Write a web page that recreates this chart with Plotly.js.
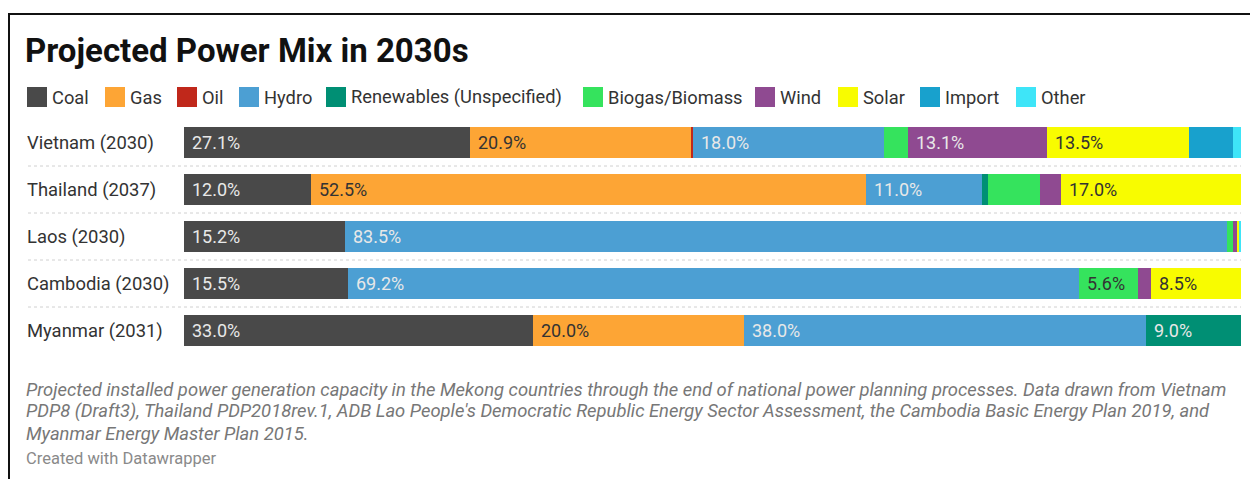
<!DOCTYPE html>
<html>
<head>
<meta charset="utf-8">
<script src="https://cdn.plot.ly/plotly-3.0.1.min.js"></script>
<style>
  html, body { margin: 0; padding: 0; background: #fff; }
  #chart { width: 1250px; height: 479px; }
  #frame { position: absolute; left: 8px; top: 13px; right: 0; bottom: 0;
           border-left: 2px solid #111; border-top: 2px solid #111; pointer-events: none; }
</style>
</head>
<body>
<div id="chart"></div>
<div id="frame"></div>
<script>
// ---- Data ----
const countries = ["Vietnam (2030)", "Thailand (2037)", "Laos (2030)", "Cambodia (2030)", "Myanmar (2031)"];
const seriesNames = ["Coal", "Gas", "Oil", "Hydro", "Renewables (Unspecified)", "Biogas/Biomass", "Wind", "Solar", "Import", "Other"];
const coal       = [27.1, 12.0, 15.2, 15.5, 33.0];
const gas        = [20.9, 52.5, 0, 0, 20.0];
const oil        = [0.2, 0, 0, 0, 0];
const hydro      = [18.0, 11.0, 83.5, 69.2, 38.0];
const renewables = [0, 0.6, 0, 0, 9.0];
const biogas     = [2.3, 4.9, 0.5, 5.6, 0];
const wind       = [13.1, 2.0, 0.4, 1.2, 0];
const solar      = [13.5, 17.0, 0.2, 8.5, 0];
const imports    = [4.1, 0, 0, 0, 0];
const other      = [0.8, 0, 0.2, 0, 0];
const seriesValues = [coal, gas, oil, hydro, renewables, biogas, wind, solar, imports, other];

// ---- Styles ----
const colors = ["#494949", "#fda535", "#c0281b", "#4c9fd3", "#008f74", "#35e35d", "#8f4a91", "#f8fc00", "#18a1cd", "#3ee5f8"];
const labelColors = ["#e8e8e8", "#333333", "#e8e8e8", "#e8e8e8", "#e8e8e8", "#333333", "#e8e8e8", "#333333", "#e8e8e8", "#333333"];
const legendSquareX = [27, 105, 177, 239, 326, 583, 755, 838, 920, 1016];
const FONT = "Roboto, 'Noto Sans', sans-serif";

const W = 1250, H = 479;
const M = { l: 184, r: 9, t: 119, b: 125 };
const PW = W - M.l - M.r, PH = H - M.t - M.b;
const px2x = px => (px - M.l) / PW;
const px2y = py => (H - M.b - py) / PH;

const traces = seriesNames.map((name, i) => ({
  type: "bar",
  orientation: "h",
  name: name,
  y: countries,
  x: seriesValues[i],
  marker: { color: colors[i], line: { width: 0 } },
  hoverinfo: "skip",
  showlegend: false
}));

const annotations = [];
const shapes = [];

// Row labels
countries.forEach(c => {
  annotations.push({
    xref: "paper", yref: "y", x: px2x(25), y: c, xanchor: "left", yanchor: "middle",
    text: c, showarrow: false, font: { family: FONT, size: 18.4, color: "#333" }
  });
});

// Segment labels
countries.forEach((c, ci) => {
  let cum = 0;
  seriesValues.forEach((vals, si) => {
    const v = vals[ci];
    if (v >= 5) {
      annotations.push({
        xref: "x", yref: "y", x: cum, y: c, xanchor: "left", yanchor: "middle", xshift: 6,
        text: v.toFixed(1) + "%", showarrow: false,
        font: { family: FONT, size: 18, color: labelColors[si] }
      });
    }
    cum += v;
  });
});

// Row separators
for (let i = 0; i < countries.length - 1; i++) {
  shapes.push({
    type: "line", xref: "paper", yref: "y", x0: px2x(28), x1: 1, y0: i + 0.5, y1: i + 0.5,
    line: { color: "#d0d0d0", width: 1, dash: "dot" }
  });
}

// Legend
seriesNames.forEach((n, i) => {
  const x0 = legendSquareX[i];
  shapes.push({
    type: "rect", xref: "paper", yref: "paper",
    x0: px2x(x0), x1: px2x(x0 + 20), y0: px2y(107), y1: px2y(87),
    fillcolor: colors[i], line: { width: 0 }
  });
  annotations.push({
    xref: "paper", yref: "paper", x: px2x(x0 + 23), y: px2y(97), xanchor: "left", yanchor: "middle",
    text: n, showarrow: false, font: { family: FONT, size: 18.3, color: "#333" }
  });
});

// Footnotes
const notes = [
  "Projected installed power generation capacity in the Mekong countries through the end of national power planning processes. Data drawn from Vietnam",
  "PDP8 (Draft3), Thailand PDP2018rev.1, ADB Lao People's Democratic Republic Energy Sector Assessment, the Cambodia Basic Energy Plan 2019, and",
  "Myanmar Energy Master Plan 2015."
];
notes.forEach((t, i) => {
  annotations.push({
    xref: "paper", yref: "paper", x: px2x(24), y: px2y(389 + 22 * i), xanchor: "left", yanchor: "middle",
    text: "<i>" + t + "</i>", showarrow: false, font: { family: FONT, size: 18.4, color: "#777" }
  });
});
annotations.push({
  xref: "paper", yref: "paper", x: px2x(24), y: px2y(459), xanchor: "left", yanchor: "middle",
  text: "Created with Datawrapper", showarrow: false, font: { family: FONT, size: 16.5, color: "#8a8a8a" }
});

const layout = {
  width: W, height: H,
  margin: M,
  paper_bgcolor: "#fff", plot_bgcolor: "#fff",
  title: {
    text: "<b>Projected Power Mix in 2030s</b>",
    font: { family: FONT, size: 33, color: "#111" },
    xref: "container", yref: "container", x: 25 / W, y: 1 - 50 / H, xanchor: "left", yanchor: "middle"
  },
  barmode: "stack",
  bargap: 0.34,
  xaxis: { range: [0, 100], visible: false, fixedrange: true },
  yaxis: { type: "category", autorange: "reversed", visible: false, fixedrange: true },
  showlegend: false,
  annotations: annotations,
  shapes: shapes,
  hovermode: false
};

Plotly.newPlot("chart", traces, layout, { displayModeBar: false, staticPlot: true });
</script>
</body>
</html>
